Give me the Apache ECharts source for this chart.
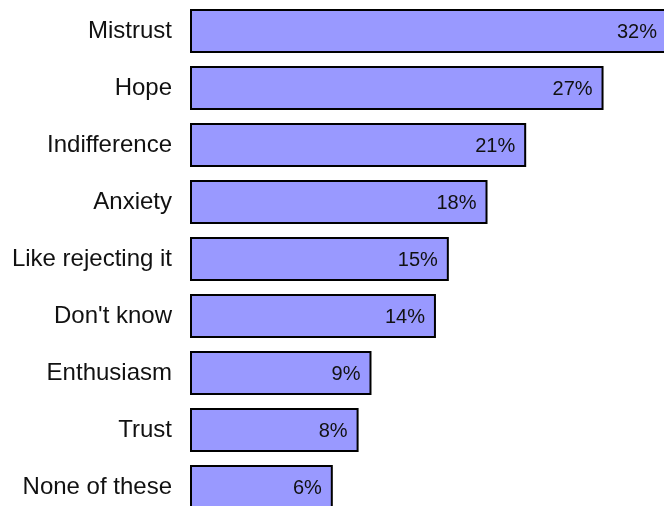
<!DOCTYPE html>
<html>
<head>
<meta charset="utf-8">
<script src="https://cdn.jsdelivr.net/npm/echarts@6/dist/echarts.min.js"></script>
<style>
  html, body { margin: 0; padding: 0; background: #fff; }
  #chart { width: 664px; height: 506px; }
</style>
</head>
<body>
<div id="chart"></div>
<script>
// Feelings named by respondents, with share of answers (%)
const categories = ['Mistrust', 'Hope', 'Indifference', 'Anxiety', 'Like rejecting it',
                    "Don't know", 'Enthusiasm', 'Trust', 'None of these'];
const shares = [32, 27, 21, 18, 15, 14, 9, 8, 6];

const X_MIN = -5;
const X_MAX = 32;
const FONT = '"Liberation Sans", Arial, sans-serif';

const chart = echarts.init(document.getElementById('chart'), null, { renderer: 'canvas' });

chart.setOption({
  animation: false,
  backgroundColor: '#ffffff',
  grid: {
    left: 190, top: 2.5, width: 477, height: 513,
    containLabel: false,
    outerBoundsMode: 'none'
  },
  xAxis: {
    type: 'value',
    min: X_MIN,
    max: X_MAX,
    show: false
  },
  yAxis: {
    type: 'category',
    data: categories,
    inverse: true,
    axisLine: { show: false },
    axisTick: { show: false },
    splitLine: { show: false },
    axisLabel: {
      margin: 18,
      color: '#111',
      fontSize: 24,
      fontFamily: FONT
    }
  },
  series: [{
    type: 'custom',
    clip: false,
    encode: { x: 1, y: 0 },
    data: shares.map((v, i) => [i, v]),
    renderItem: function (params, api) {
      const idx = api.value(0);
      const val = api.value(1);
      const end = api.coord([val, idx]);
      const start = api.coord([X_MIN, idx]);
      const band = api.size([0, 1])[1];
      const h = band * 42 / 57;
      const x0 = start[0] + 1;
      const x1 = end[0];
      return {
        type: 'group',
        children: [{
          type: 'rect',
          shape: { x: x0, y: end[1] - h / 2, width: x1 - x0, height: h },
          style: { fill: '#9999ff', stroke: '#000000', lineWidth: 2 }
        }, {
          type: 'text',
          style: {
            x: x1 - 10,
            y: end[1] + 1,
            text: val + '%',
            align: 'right',
            verticalAlign: 'middle',
            fill: '#111',
            font: '20px ' + FONT
          }
        }]
      };
    }
  }]
});
</script>
</body>
</html>
